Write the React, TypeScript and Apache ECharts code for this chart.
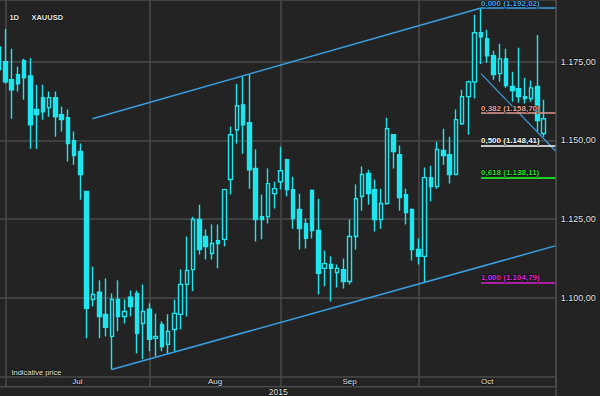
import React, { useEffect, useRef } from 'react';
import * as echarts from 'echarts';

// ---------- data ----------
const junDays = [30];
const julDays = [1, 2, 3, 6, 7, 8, 9, 10, 13, 14, 15, 16, 17, 20, 21, 22, 23, 24, 27, 28, 29, 30, 31];
const augDays = [3, 4, 5, 6, 7, 10, 11, 12, 13, 14, 17, 18, 19, 20, 21, 24, 25, 26, 27, 28, 31];
const sepDays = [1, 2, 3, 4, 7, 8, 9, 10, 11, 14, 15, 16, 17, 18, 21, 22, 23, 24, 25, 28, 29, 30];
const octDays = [1, 2, 5, 6, 7, 8, 9, 12, 13, 14, 15, 16, 19, 20, 21, 22, 23, 26, 27, 28, 29, 30];
const novDays = [2];

const categories: string[] = [
  ...junDays.map((d) => `Jun ${d}`),
  ...julDays.map((d) => `Jul ${d}`),
  ...augDays.map((d) => `Aug ${d}`),
  ...sepDays.map((d) => `Sep ${d}`),
  ...octDays.map((d) => `Oct ${d}`),
  ...novDays.map((d) => `Nov ${d}`),
];

const monthStarts = ['Jul 1', 'Aug 3', 'Sep 1', 'Oct 1', 'Nov 2'];
const monthLabels = ['Jul', 'Aug', 'Sep', 'Oct'];
const yearLabel = '2015';
const symbolLabel = 'XAUUSD';
const periodLabel = '1D';
const footLabel = 'Indicative price';

// [open, close, low, high]
const candles: number[][] = [
  [1179.7, 1172.4, 1171.8, 1180.4],
  [1175.0, 1168.6, 1168.0, 1185.4],
  [1169.3, 1166.1, 1156.9, 1179.1],
  [1170.9, 1168.0, 1165.5, 1173.4],
  [1175.3, 1169.9, 1162.9, 1175.9],
  [1170.5, 1155.0, 1147.4, 1176.2],
  [1159.8, 1158.2, 1147.4, 1167.7],
  [1163.6, 1159.1, 1156.6, 1167.7],
  [1160.4, 1163.6, 1157.5, 1165.5],
  [1163.6, 1157.5, 1151.2, 1165.5],
  [1158.2, 1156.6, 1152.8, 1160.7],
  [1157.2, 1149.0, 1143.3, 1159.8],
  [1149.9, 1145.2, 1142.3, 1152.8],
  [1146.5, 1139.2, 1131.2, 1149.0],
  [1133.8, 1096.7, 1087.2, 1133.8],
  [1099.5, 1101.1, 1097.3, 1110.0],
  [1101.8, 1094.1, 1087.2, 1105.6],
  [1094.8, 1090.7, 1087.8, 1106.2],
  [1087.8, 1099.5, 1077.3, 1101.4],
  [1099.5, 1094.1, 1089.4, 1105.6],
  [1094.1, 1095.7, 1091.9, 1099.5],
  [1100.2, 1097.3, 1094.1, 1102.4],
  [1101.4, 1088.8, 1082.4, 1102.4],
  [1091.9, 1095.7, 1080.5, 1104.3],
  [1096.4, 1086.9, 1083.1, 1098.3],
  [1087.2, 1087.8, 1081.5, 1095.1],
  [1091.6, 1084.6, 1083.1, 1092.6],
  [1085.3, 1089.4, 1082.4, 1094.8],
  [1090.0, 1095.1, 1083.1, 1099.5],
  [1094.8, 1104.3, 1090.0, 1109.0],
  [1104.3, 1108.7, 1094.1, 1119.5],
  [1109.0, 1124.9, 1102.1, 1125.8],
  [1124.9, 1115.4, 1113.8, 1129.6],
  [1119.5, 1116.3, 1112.2, 1121.7],
  [1114.1, 1117.3, 1112.2, 1123.3],
  [1118.2, 1117.3, 1109.4, 1123.3],
  [1118.6, 1134.4, 1116.3, 1134.7],
  [1137.6, 1151.8, 1132.8, 1154.4],
  [1153.4, 1161.0, 1149.0, 1168.0],
  [1161.3, 1155.0, 1145.8, 1170.2],
  [1155.6, 1140.7, 1134.7, 1170.9],
  [1141.1, 1124.9, 1117.9, 1147.1],
  [1125.8, 1124.9, 1118.6, 1132.8],
  [1125.8, 1136.3, 1123.6, 1141.1],
  [1133.1, 1134.7, 1128.4, 1136.9],
  [1136.9, 1140.4, 1134.4, 1148.0],
  [1143.9, 1134.4, 1132.2, 1144.2],
  [1134.4, 1125.2, 1122.0, 1138.5],
  [1128.1, 1122.0, 1115.4, 1133.1],
  [1123.6, 1118.9, 1115.7, 1125.2],
  [1134.1, 1121.4, 1118.9, 1134.4],
  [1121.4, 1107.8, 1101.1, 1131.5],
  [1109.4, 1110.9, 1103.7, 1115.1],
  [1110.6, 1109.4, 1098.9, 1113.2],
  [1108.1, 1109.4, 1103.3, 1110.6],
  [1109.0, 1105.2, 1103.0, 1112.5],
  [1105.2, 1119.5, 1104.3, 1124.9],
  [1119.5, 1131.5, 1115.4, 1136.0],
  [1132.2, 1139.2, 1127.7, 1141.7],
  [1139.5, 1133.1, 1129.6, 1140.7],
  [1134.4, 1124.9, 1121.1, 1137.6],
  [1124.9, 1130.0, 1122.0, 1134.7],
  [1130.0, 1153.7, 1129.6, 1157.2],
  [1151.8, 1146.5, 1141.1, 1151.8],
  [1145.5, 1131.9, 1127.7, 1148.4],
  [1132.8, 1127.1, 1123.3, 1134.7],
  [1128.1, 1115.4, 1111.9, 1128.4],
  [1115.4, 1113.2, 1110.6, 1118.9],
  [1113.2, 1138.2, 1104.79, 1141.4],
  [1138.2, 1135.4, 1130.6, 1142.0],
  [1135.4, 1147.1, 1134.7, 1149.6],
  [1146.8, 1145.2, 1142.3, 1153.7],
  [1145.5, 1139.2, 1136.3, 1151.2],
  [1139.2, 1156.6, 1139.2, 1159.8],
  [1155.3, 1163.9, 1155.0, 1166.1],
  [1163.9, 1168.6, 1151.8, 1169.0],
  [1168.6, 1184.2, 1163.3, 1189.9],
  [1184.2, 1182.9, 1174.3, 1192.02],
  [1182.3, 1176.9, 1174.7, 1185.1],
  [1176.9, 1170.9, 1169.3, 1178.5],
  [1171.2, 1175.9, 1168.6, 1180.7],
  [1175.9, 1167.4, 1166.7, 1179.1],
  [1167.1, 1165.8, 1162.3, 1171.8],
  [1166.4, 1163.9, 1162.0, 1179.4],
  [1163.9, 1163.3, 1161.7, 1169.9],
  [1163.3, 1166.7, 1162.3, 1169.0],
  [1167.1, 1156.3, 1152.8, 1183.5],
  [1152.2, 1156.9, 1151.2, 1162.9],
];

// trend lines: [category index, price]
const upperTrend = [[14.9, 1156.9], [77, 1192.02]];
const lowerTrend = [[18, 1077.3], [89, 1116.6]];
const shortTrend = [[77, 1171.2], [89, 1146.5]];

// Fibonacci retracement
const fibRatios = [0, 0.382, 0.5, 0.618, 1];
const fibPrices = [1192.02, 1158.7, 1148.41, 1138.11, 1104.79];
const fibStartIndex = 77;
const fibEndIndex = 89;

const yMin = 1075;
const yMax = 1194.58;
const yStep = 25;

// ---------- layout & styles ----------
const OFFSET = 4.39; // the first (June) slot is partly hidden off the left edge
const BG = '#232323';
const GRID = '#4b4b4b';
const CYAN = '#1fe6ee';
const TREND = '#3a9fe2';
const FIB_LINE = ['#3a9fe2', '#e39a8f', '#ffffff', '#1fcf1f', '#d91fd0'];
const FIB_TEXT = ['#4aa8ec', '#f0a59b', '#ffffff', '#2fe02f', '#e42adc'];
const FONT = '"Liberation Sans", Arial, sans-serif';
const TEXT = '#ececec';

const euro = (v: number) => {
  const [i, d] = v.toFixed(2).split('.');
  return i.replace(/\B(?=(\d{3})+(?!\d))/g, '.') + ',' + d;
};
const fibLabel = (r: number, p: number) => `${r.toFixed(3).replace('.', ',')} (${euro(p)})`;

export default function App() {
  const ref = useRef<HTMLDivElement>(null);

  useEffect(() => {
    const el = ref.current;
    if (!el) return;
    const chart = echarts.init(el, null, { renderer: 'svg' });
    const startIdx = monthStarts.map((n) => categories.indexOf(n));

    const option: any = {
      animation: false,
      backgroundColor: BG,
      grid: { left: 0, top: -2, width: 563.2, height: 378.7, containLabel: false },
      xAxis: [
        {
          type: 'category',
          data: categories,
          boundaryGap: true,
          axisLine: { show: false },
          axisTick: {
            show: true,
            alignWithLabel: true,
            interval: (i: number) => startIdx.includes(i),
            length: 10,
            lineStyle: { color: GRID, width: 1.5 },
          },
          axisLabel: { show: false },
          splitLine: { show: false },
        },
        { type: 'value', min: -0.5, max: categories.length - 0.5, show: false },
      ],
      yAxis: {
        type: 'value',
        position: 'right',
        min: yMin,
        max: yMax,
        interval: yStep,
        axisLine: { show: false },
        axisTick: { show: false },
        splitLine: { lineStyle: { color: GRID, width: 1.5 } },
        axisLabel: {
          showMinLabel: false,
          showMaxLabel: false,
          margin: 1.5,
          formatter: (v: number) => euro(v),
          color: TEXT,
          fontFamily: FONT,
          fontSize: 9,
          textBorderColor: '#000',
          textBorderWidth: 1,
        },
      },
      series: [
        {
          type: 'candlestick',
          name: symbolLabel,
          xAxisIndex: 0,
          yAxisIndex: 0,
          data: candles,
          barWidth: 4,
          z: 3,
          itemStyle: {
            color: BG,
            color0: CYAN,
            borderColor: CYAN,
            borderColor0: CYAN,
            borderWidth: 1.4,
          },
          markLine: {
            silent: true,
            z: 1,
            symbol: ['none', 'none'],
            label: { show: false },
            lineStyle: { color: GRID, width: 1.5, type: 'solid' },
            data: monthStarts.map((m) => ({ xAxis: m })),
          },
        },
        {
          type: 'line',
          xAxisIndex: 1,
          yAxisIndex: 0,
          data: upperTrend,
          symbol: 'none',
          silent: true,
          z: 4,
          lineStyle: { color: TREND, width: 1.5 },
        },
        {
          type: 'line',
          xAxisIndex: 1,
          yAxisIndex: 0,
          data: lowerTrend,
          symbol: 'none',
          silent: true,
          z: 4,
          lineStyle: { color: TREND, width: 1.5 },
        },
        {
          type: 'line',
          xAxisIndex: 1,
          yAxisIndex: 0,
          data: shortTrend,
          symbol: 'none',
          silent: true,
          z: 4,
          lineStyle: { color: TREND, width: 1.2 },
          markLine: {
            silent: true,
            z: 6,
            symbol: ['none', 'none'],
            data: fibPrices.map((p, i) => [
              {
                coord: [fibStartIndex, p],
                lineStyle: { color: FIB_LINE[i], width: i === 3 ? 2.2 : 1.5, type: 'solid' },
                label: {
                  show: true,
                  position: 'insideStartTop',
                  distance: [0, 1],
                  formatter: fibLabel(fibRatios[i], p),
                  color: FIB_TEXT[i],
                  fontFamily: FONT,
                  fontWeight: 'bold',
                  fontSize: 8,
                  textBorderColor: '#000',
                  textBorderWidth: 1,
                },
              },
              { coord: [fibEndIndex, p] },
            ]),
          },
        },
      ],
    };
    chart.setOption(option);

    const xp = (v: number) => chart.convertToPixel({ xAxisIndex: 1 }, v) as number;
    const xRight = xp(startIdx[startIdx.length - 1]);
    const textStyle = (text: string, size: number, bold: boolean, align: string) => ({
      text,
      fill: TEXT,
      stroke: '#000',
      lineWidth: 1,
      font: `${bold ? 'bold ' : ''}${size}px ${FONT}`,
      align,
      textAlign: align,
      verticalAlign: 'middle',
      textVerticalAlign: 'middle',
    });

    const elements: any[] = [
      {
        type: 'rect',
        silent: true,
        z: 50,
        shape: { x: xRight + 0.8, y: -2, width: 4, height: 380 },
        style: { fill: BG },
      },
      {
        type: 'line',
        silent: true,
        z: 51,
        shape: { x1: xRight, y1: 0, x2: xRight, y2: 396 },
        style: { stroke: GRID, lineWidth: 1.5 },
      },
      {
        type: 'line',
        silent: true,
        z: 51,
        shape: { x1: 0, y1: 386.7, x2: xRight, y2: 386.7 },
        style: { stroke: GRID, lineWidth: 1.5 },
      },
      { type: 'text', z: 60, silent: true, x: OFFSET + 9, y: 17.5, style: textStyle(periodLabel, 7.5, true, 'left') },
      { type: 'text', z: 60, silent: true, x: OFFSET + 31, y: 17.5, style: textStyle(symbolLabel, 7.5, true, 'left') },
      { type: 'text', z: 60, silent: true, x: OFFSET + 11, y: 372, style: textStyle(footLabel, 7.5, false, 'left') },
      { type: 'text', z: 60, silent: true, x: (OFFSET + xRight) / 2, y: 391.6, style: textStyle(yearLabel, 8.5, false, 'center') },
      ...monthLabels.map((m, i) => ({
        type: 'text',
        z: 60,
        silent: true,
        x: (xp(startIdx[i]) + xp(startIdx[i + 1])) / 2,
        y: 381.8,
        style: textStyle(m, 8, false, 'center'),
      })),
    ];
    chart.setOption({ graphic: { elements } });

    return () => chart.dispose();
  }, []);

  return (
    <div
      ref={ref}
      style={{ position: 'fixed', left: -OFFSET, top: 0, width: 600 + OFFSET, height: 396, margin: 0 }}
    />
  );
}
